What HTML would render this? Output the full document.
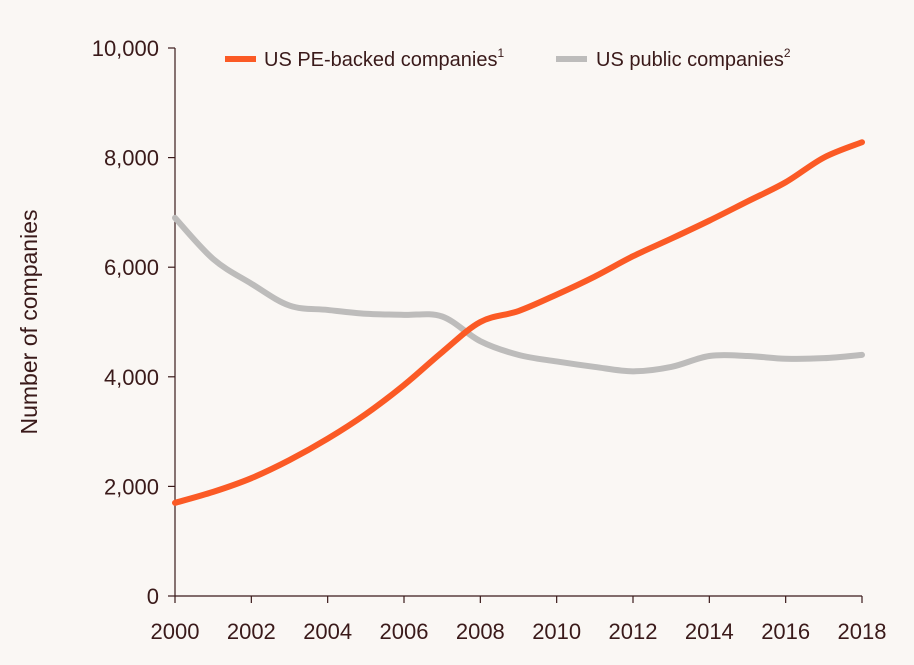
<!DOCTYPE html>
<html><head><meta charset="utf-8"><style>
body{margin:0;background:#faf7f4;}
svg{display:block;font-family:"Liberation Sans",sans-serif;}
</style></head><body>
<svg id="chart" width="914" height="665">
<rect width="914" height="665" fill="#faf7f4"/>
<g id="axes"></g>
<g id="series"></g>
<text transform="translate(37,322) rotate(-90)" text-anchor="middle" font-size="23" fill="#3a1a1a">Number of companies</text>
<g>
<line x1="225" y1="59" x2="256" y2="59" stroke="#fb5a25" stroke-width="6"/>
<text x="264" y="66" font-size="20" fill="#3a1a1a">US PE-backed companies<tspan font-size="12" dy="-9">1</tspan></text>
<line x1="556" y1="59" x2="587" y2="59" stroke="#bdbcbb" stroke-width="6"/>
<text x="596" y="66" font-size="20" fill="#3a1a1a">US public companies<tspan font-size="12" dy="-9">2</tspan></text>
</g>
</svg>
<script>
const years=[2000,2001,2002,2003,2004,2005,2006,2007,2008,2009,2010,2011,2012,2013,2014,2015,2016,2017,2018];
const peValues=[1700,1900,2150,2480,2870,3320,3850,4450,5000,5200,5500,5830,6200,6520,6850,7200,7550,8000,8280];
const publicValues=[6900,6150,5700,5300,5220,5150,5130,5100,4650,4400,4280,4180,4100,4180,4380,4380,4330,4340,4400];
const yTicks=[0,2000,4000,6000,8000,10000];
const xTicks=[2000,2002,2004,2006,2008,2010,2012,2014,2016,2018];
const NS="http://www.w3.org/2000/svg";
const x=v=>175+(v-2000)*(862-175)/18;
const y=v=>596-v*(596-48)/10000;
const axes=document.getElementById('axes'),series=document.getElementById('series');
function mk(t,a,p){const e=document.createElementNS(NS,t);for(const k in a)e.setAttribute(k,a[k]);p.appendChild(e);return e;}
const ya=mk('line',{x1:175,y1:48,x2:175,y2:596,stroke:'#3a1a1a','stroke-width':1.2},axes);


const xa=mk('line',{x1:175,y1:596,x2:862,y2:596,stroke:'#3a1a1a','stroke-width':1.2},axes);


yTicks.forEach(t=>{
 const l=mk('line',{x1:168,y1:y(t),x2:175,y2:y(t),stroke:'#3a1a1a','stroke-width':1.2},axes);
 
 
 const tx=mk('text',{x:159,y:y(t)+8,'text-anchor':'end','font-size':22,fill:'#3a1a1a'},axes);
 tx.textContent=t.toLocaleString('en-US');
 
 
});
xTicks.forEach(t=>{
 const l=mk('line',{x1:x(t),y1:596,x2:x(t),y2:603,stroke:'#3a1a1a','stroke-width':1.2},axes);
 
 
 const tx=mk('text',{x:x(t),y:639,'text-anchor':'middle','font-size':22,fill:'#3a1a1a'},axes);
 tx.textContent=t;
 
 
});
function path(vals){
 const p=years.map((yr,i)=>[x(yr),y(vals[i])]);
 let d='M'+p[0][0]+','+p[0][1];
 for(let i=0;i<p.length-1;i++){
  const p0=p[Math.max(0,i-1)],p1=p[i],p2=p[i+1],p3=p[Math.min(p.length-1,i+2)];
  const c1=[p1[0]+(p2[0]-p0[0])/6,p1[1]+(p2[1]-p0[1])/6];
  const c2=[p2[0]-(p3[0]-p1[0])/6,p2[1]-(p3[1]-p1[1])/6];
  d+=' C'+c1+' '+c2+' '+p2;
 }
 return d;
}
const pub=mk('path',{d:path(publicValues),fill:'none',stroke:'#bdbcbb','stroke-width':6,'stroke-linecap':'round'},series);


const pe=mk('path',{d:path(peValues),fill:'none',stroke:'#fb5a25','stroke-width':6,'stroke-linecap':'round'},series);


</script>
</body></html>
